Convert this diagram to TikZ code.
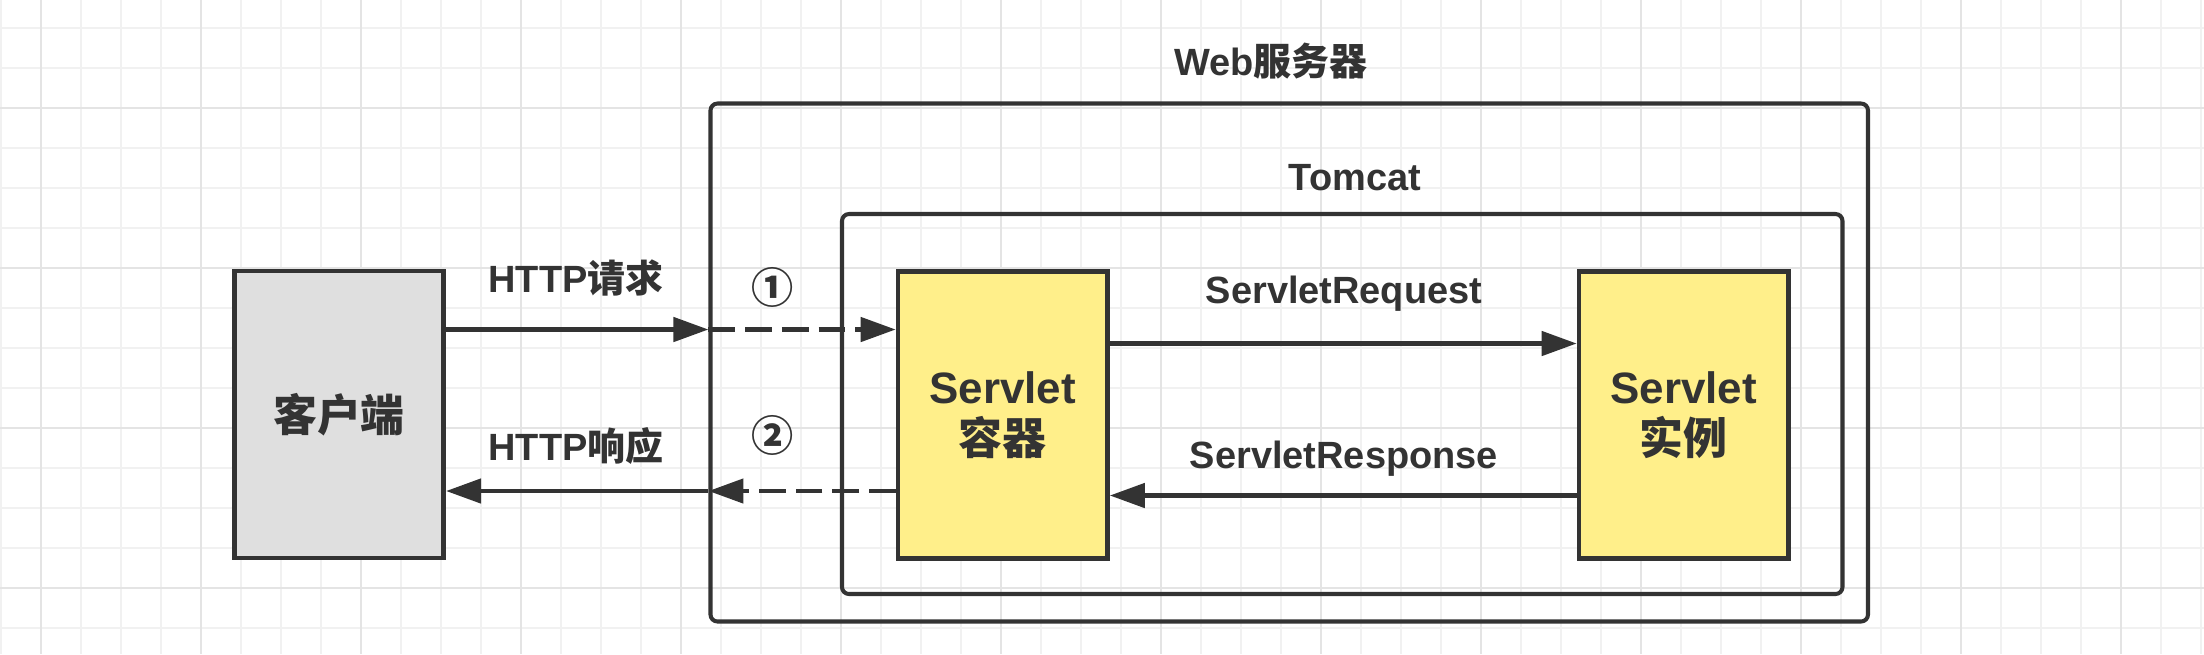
\documentclass[tikz,border=0pt]{standalone}
\usepackage{fontspec}
\setmainfont{Liberation Sans}
\newfontfamily\cjk{Noto Sans CJK SC}
\usetikzlibrary{arrows.meta}
\definecolor{ink}{HTML}{333333}
\definecolor{boxyellow}{HTML}{FFEF8A}
\definecolor{boxgray}{HTML}{DFDFDF}
\definecolor{gridminor}{HTML}{F1F1F1}
\definecolor{gridmajor}{HTML}{E4E4E4}
\begin{document}
\begin{tikzpicture}[y=-1cm,
    every node/.style={font=\fontsize{10.8}{13}\selectfont\bfseries, text=ink},
    box/.style={draw=ink, line width=1.3pt, minimum width=2.095cm, minimum height=2.87cm,
        inner sep=0pt, align=center, font=\fontsize{12.5}{14.5}\selectfont\bfseries},
    frame/.style={draw=ink, line width=1.15pt, rounded corners=0.07cm, inner sep=0pt},
    arr/.style={draw=ink, line width=1.3pt, -{Triangle[length=0.35cm,width=0.24cm]}},
    dasharr/.style={arr, dash pattern=on 0.267cm off 0.10cm}]
    % Hintergrund mit Raster
    \fill[white] (0,0) rectangle (22.04,6.54);
    \useasboundingbox (0,0) rectangle (22.04,6.54);
    \foreach \gx in {0,...,55}
        \draw[gridminor, line width=0.6pt] ({0.007+0.4*\gx},0) -- ++(0,6.54);
    \foreach \gy in {0,...,15}
        \draw[gridminor, line width=0.6pt] (0,{0.28+0.4*\gy}) -- ++(22.04,0);
    \foreach \gx in {0,...,13}
        \draw[gridmajor, line width=0.6pt] ({0.407+1.6*\gx},0) -- ++(0,6.54);
    \foreach \gy in {0,...,3}
        \draw[gridmajor, line width=0.6pt] (0,{1.08+1.6*\gy}) -- ++(22.04,0);

    % Rahmen: Web-Server und Tomcat
    \node[frame, minimum width=11.575cm, minimum height=5.18cm] (web) at (12.8925,3.625) {};
    \node[frame, minimum width=10.005cm, minimum height=3.8cm] (tomcat) at (13.4225,4.04) {};
    \node[anchor=base] (webtitle) at (12.71,0.75) {Web{\cjk 服务器}};
    \node[anchor=base] (tomcattitle) at (13.55,1.9) {Tomcat};

    % Kästen
    \node[box, fill=boxgray] (client) at (3.39,4.145) {{\cjk 客户端}};
    \node[box, fill=boxyellow] (cont) at (10.0275,4.15) {Servlet\\{\cjk 容器}};
    \node[box, fill=boxyellow] (inst) at (16.8375,4.1475) {Servlet\\{\cjk 实例}};

    % HTTP-Anfrage und -Antwort
    \draw[arr] (client.east |- 0,3.295) -- (web.west |- 0,3.295);
    \draw[dasharr] (web.west |- 0,3.295) -- (cont.west |- 0,3.295);
    \draw[dasharr] (cont.west |- 0,4.91) -- (web.west |- 0,4.91);
    \draw[arr] (web.west |- 0,4.91) -- (client.east |- 0,4.91);
    \node[anchor=base] (httpreq) at (5.76,2.927) {HTTP{\cjk 请求}};
    \node[anchor=base] (httpresp) at (5.76,4.607) {HTTP{\cjk 响应}};
    \node[font=\fontsize{12}{14}\selectfont\bfseries] (stepone) at (7.73,2.877) {{\cjk ①}};
    \node[font=\fontsize{12}{14}\selectfont\bfseries] (steptwo) at (7.73,4.357) {{\cjk ②}};

    % Servlet-Anfrage und -Antwort
    \draw[arr] (cont.east |- 0,3.435) -- (inst.west |- 0,3.435);
    \draw[arr] (inst.west |- 0,4.955) -- (cont.east |- 0,4.955);
    \node[anchor=base] (sreq) at (13.44,3.033) {ServletRequest};
    \node[anchor=base] (sresp) at (13.44,4.68) {ServletResponse};
\end{tikzpicture}
\end{document}
